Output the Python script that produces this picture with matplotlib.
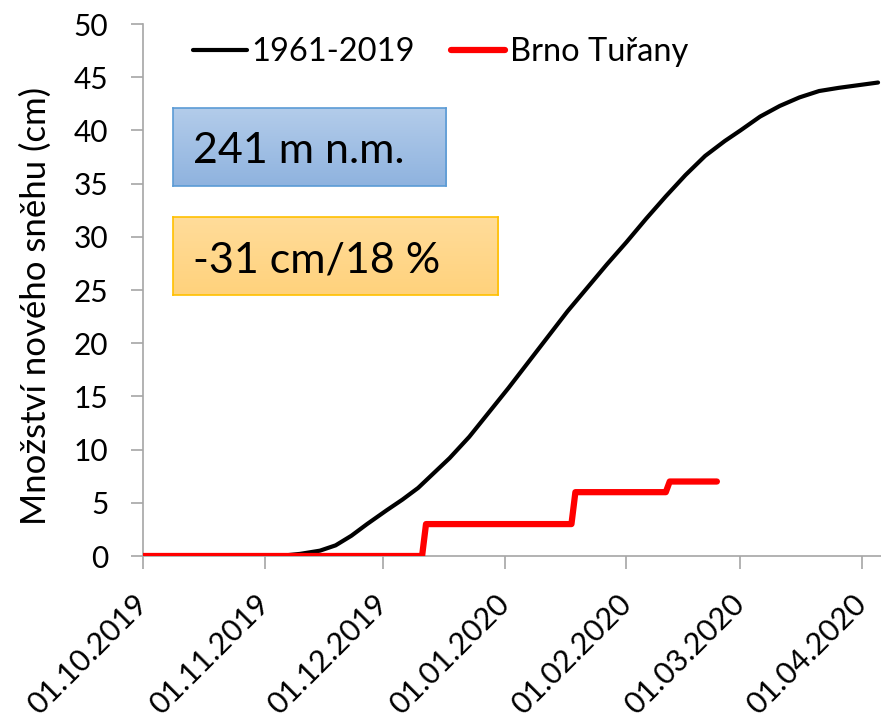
import matplotlib
matplotlib.use("Agg")
import matplotlib.pyplot as plt
import matplotlib.dates as mdates
import numpy as np
import pandas as pd

# Long-term mean cumulative new snow (1961-2019)
clim_dates = ["2019-10-01", "2019-11-03", "2019-11-06", "2019-11-10", "2019-11-15",
              "2019-11-19", "2019-11-23", "2019-11-27", "2019-12-02", "2019-12-06",
              "2019-12-10", "2019-12-14", "2019-12-18", "2019-12-23", "2019-12-28",
              "2020-01-02", "2020-01-07", "2020-01-12", "2020-01-17", "2020-01-22",
              "2020-01-27", "2020-02-01", "2020-02-06", "2020-02-11", "2020-02-16",
              "2020-02-21", "2020-02-26", "2020-03-01", "2020-03-06", "2020-03-11",
              "2020-03-16", "2020-03-21", "2020-03-26", "2020-04-01", "2020-04-05"]
clim_values = [0.0, 0.0, 0.05, 0.2, 0.5, 1.0, 1.9, 3.0, 4.3, 5.3, 6.4, 7.8, 9.2,
               11.2, 13.5, 15.8, 18.2, 20.6, 23.0, 25.2, 27.4, 29.5, 31.7, 33.8,
               35.8, 37.6, 39.0, 40.0, 41.3, 42.3, 43.1, 43.7, 44.0, 44.3, 44.5]

# Brno Tuřany 2019/2020 cumulative new snow (step changes)
station_dates = ["2019-10-01", "2019-12-11", "2019-12-12", "2020-01-18", "2020-01-19",
                 "2020-02-11", "2020-02-12", "2020-02-24"]
station_values = [0, 0, 3, 3, 6, 6, 7, 7]

xtick_dates = ["2019-10-01", "2019-11-01", "2019-12-01", "2020-01-01",
               "2020-02-01", "2020-03-01", "2020-04-01"]
yticks = [0, 5, 10, 15, 20, 25, 30, 35, 40, 45, 50]

legend_labels = ["1961-2019", "Brno Tuřany"]
elevation_text = "241 m n.m."
deficit_text = "-31 cm/18 %"
ylabel_text = "Množství nového sněhu (cm)"

plt.rcParams['font.family'] = ['Lato', 'DejaVu Sans']

W, H = 881, 725
fig = plt.figure(figsize=(W / 100, H / 100), dpi=100)
ax = fig.add_axes([143 / W, 1 - 556 / H, (W - 143) / W, (556 - 24) / H])

cd = pd.to_datetime(clim_dates)
sd = pd.to_datetime(station_dates)
ax.plot(cd, clim_values, color="black", lw=3, solid_capstyle="round",
        solid_joinstyle="round", zorder=3)
ax.plot(sd, station_values, color="#FF0000", lw=4.5, solid_capstyle="round",
        solid_joinstyle="round", zorder=4)

ax.set_xlim(pd.Timestamp("2019-10-01"), pd.Timestamp("2020-04-05 18:00"))
ax.set_ylim(0, 50)
ax.set_yticks(yticks)
ax.set_xticks(pd.to_datetime(xtick_dates))
ax.xaxis.set_major_formatter(mdates.DateFormatter("%d.%m.%Y"))
ax.tick_params(axis="both", colors="#A6A6A6", labelcolor="black", length=9, width=1.2)
ax.tick_params(axis="y", labelsize=21.5, pad=16)
ax.tick_params(axis="x", labelsize=22, pad=22)
for lab in ax.get_xticklabels():
    lab.set_rotation(45)
    lab.set_ha("right")
    lab.set_va("center")
    lab.set_rotation_mode("anchor")
for s in ["top", "right"]:
    ax.spines[s].set_visible(False)
for s in ["left", "bottom"]:
    ax.spines[s].set_color("#A6A6A6")
    ax.spines[s].set_linewidth(1.2)

fig.text(36 / W, 1 - 306 / H, ylabel_text, rotation=90, fontsize=25,
         ha="center", va="center")

leg = ax.legend(legend_labels, loc="center left", bbox_to_anchor=(193 / W, 1 - 52 / H),
                bbox_transform=fig.transFigure, ncol=2, frameon=False, fontsize=23.5,
                handlelength=1.65, handletextpad=0.15, columnspacing=1.1,
                borderpad=0, borderaxespad=0)


def gradient_box(x0, y0, x1, y1, top, bottom, edge, text):
    bax = fig.add_axes([x0 / W, 1 - y1 / H, (x1 - x0) / W, (y1 - y0) / H])
    c1 = np.array(matplotlib.colors.to_rgb(top))
    c2 = np.array(matplotlib.colors.to_rgb(bottom))
    t = np.linspace(0, 1, 64)[:, None, None]
    img = c1 * (1 - t) + c2 * t
    img = np.repeat(img, 2, axis=1)
    bax.imshow(img, aspect="auto", extent=(0, 1, 0, 1), origin="upper")
    bax.set_xticks([])
    bax.set_yticks([])
    for s in bax.spines.values():
        s.set_color(edge)
        s.set_linewidth(1.2)
    bax.text((193 - x0) / (x1 - x0), 0.29, text, fontsize=31, va="baseline",
             ha="left", transform=bax.transAxes)


gradient_box(173, 108, 446, 186, "#B3CCEA", "#8FB3DF", "#5B9BD5", elevation_text)
gradient_box(173, 217, 498, 295, "#FFDC9A", "#FFD27C", "#FFC000", deficit_text)

fig.savefig("out.png", dpi=100)
